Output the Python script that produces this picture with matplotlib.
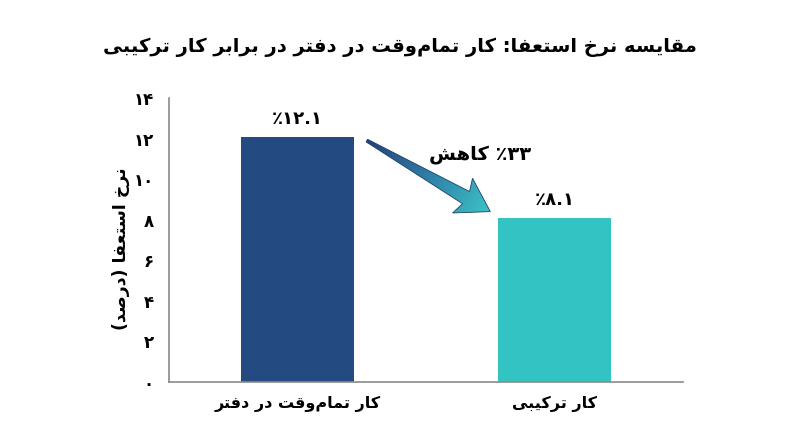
import matplotlib
matplotlib.use("Agg")
import matplotlib.pyplot as plt
import numpy as np
from matplotlib.patches import Polygon
from matplotlib.colors import LinearSegmentedColormap

# data
categories = ['کار تمام\u200cوقت در دفتر', 'کار ترکیبی']
rates = [12.1, 8.1]
bar_colors = ['#244a82', '#34c3c3']
yticks = [0, 2, 4, 6, 8, 10, 12, 14]
title = 'مقایسه نرخ استعفا: کار تمام\u200cوقت در دفتر در برابر کار ترکیبی'
ylabel = 'نرخ استعفا (درصد)'
drop_word = 'کاهش'

# matplotlib has no arabic shaping, so pick the presentation forms by hand
# (isolated, final, initial, medial)
FORMS = {
    'ا': ('\uFE8D', '\uFE8E', None, None),
    'ب': ('\uFE8F', '\uFE90', '\uFE91', '\uFE92'),
    'ت': ('\uFE95', '\uFE96', '\uFE97', '\uFE98'),
    'خ': ('\uFEA5', '\uFEA6', '\uFEA7', '\uFEA8'),
    'د': ('\uFEA9', '\uFEAA', None, None),
    'ر': ('\uFEAD', '\uFEAE', None, None),
    'س': ('\uFEB1', '\uFEB2', '\uFEB3', '\uFEB4'),
    'ش': ('\uFEB5', '\uFEB6', '\uFEB7', '\uFEB8'),
    'ص': ('\uFEB9', '\uFEBA', '\uFEBB', '\uFEBC'),
    'ع': ('\uFEC9', '\uFECA', '\uFECB', '\uFECC'),
    'ف': ('\uFED1', '\uFED2', '\uFED3', '\uFED4'),
    'ق': ('\uFED5', '\uFED6', '\uFED7', '\uFED8'),
    'م': ('\uFEE1', '\uFEE2', '\uFEE3', '\uFEE4'),
    'ن': ('\uFEE5', '\uFEE6', '\uFEE7', '\uFEE8'),
    'ه': ('\uFEE9', '\uFEEA', '\uFEEB', '\uFEEC'),
    'و': ('\uFEED', '\uFEEE', None, None),
    'ک': ('\uFB8E', '\uFB8F', '\uFB90', '\uFB91'),
    'ی': ('\uFBFC', '\uFBFD', '\uFBFE', '\uFBFF'),
}
MIRROR = {'(': ')', ')': '('}


def rtl(s):
    out = []
    for i, c in enumerate(s):
        if c not in FORMS:
            if c != '\u200c':
                out.append(c)
            continue
        prev = s[i - 1] if i > 0 else ''
        nxt = s[i + 1] if i + 1 < len(s) else ''
        j_prev = prev in FORMS and FORMS[prev][2] is not None
        j_next = nxt in FORMS and FORMS[c][2] is not None
        iso, fin, ini, med = FORMS[c]
        if j_prev and j_next:
            out.append(med)
        elif j_prev:
            out.append(fin)
        elif j_next:
            out.append(ini)
        else:
            out.append(iso)
    return ''.join(MIRROR.get(c, c) for c in reversed(out))


def fa(x):
    return str(x).translate(str.maketrans('0123456789', '۰۱۲۳۴۵۶۷۸۹'))


plt.rcParams['font.family'] = 'DejaVu Sans'
plt.rcParams['font.weight'] = 'bold'

fig = plt.figure(figsize=(8, 4.47), dpi=100)
ax = fig.add_axes([0.211, 0.1454, 0.643, 0.6354])

x = np.arange(len(rates))
width = 0.44
ax.bar(x, rates, width=width, color=bar_colors, zorder=2)
ax.set_xlim(-0.5, 1.5)
ax.set_ylim(0, 14)

for xi, v in zip(x, rates):
    ax.annotate('٪' + fa(v), (xi, v), textcoords='offset points', xytext=(0, 6),
                ha='center', va='bottom', fontsize=13, fontweight='bold')

ax.set_yticks(yticks)
ax.set_yticklabels([fa(t) for t in yticks], fontsize=12, fontweight='bold')
ax.set_xticks(x)
ax.set_xticklabels([rtl(c) for c in categories], fontsize=11.5, fontweight='bold')
ax.tick_params(axis='both', length=0)
ax.tick_params(axis='y', pad=11)
ax.tick_params(axis='x', pad=10)
for s in ['top', 'right']:
    ax.spines[s].set_visible(False)
for s in ['left', 'bottom']:
    ax.spines[s].set_color('#8a8a8a')
    ax.spines[s].set_linewidth(1.2)

ax.set_ylabel(rtl(ylabel), fontsize=12.5, fontweight='bold', labelpad=1)
ax.yaxis.set_label_coords(-0.076, 0.47)
fig.suptitle(rtl(title), fontsize=14, fontweight='bold', y=0.915)

# gradient arrow from the first bar down to the second
p0 = ax.transData.transform((x[0] + width / 2 + 0.05, rates[0] - 0.2))
p1 = ax.transData.transform((x[1] - width / 2 - 0.03, rates[1] + 0.3))
d = p1 - p0
L = np.hypot(*d)
u = d / L
n = np.array([-u[1], u[0]])
head_len, head_w, tail_w, neck_w = 28, 20, 1.5, 7
pts = [p0 + n * tail_w,
       p0 + u * (L - head_len) + n * neck_w,
       p0 + u * (L - head_len - 4) + n * head_w,
       p1,
       p0 + u * (L - head_len - 4) - n * head_w,
       p0 + u * (L - head_len) - n * neck_w,
       p0 - n * tail_w]
pts_data = ax.transData.inverted().transform(np.array(pts))
arrow = Polygon(pts_data, closed=True, facecolor='none', edgecolor='#1e3f66',
                linewidth=0.6, zorder=4)
ax.add_patch(arrow)

xmin, ymin = pts_data.min(axis=0)
xmax, ymax = pts_data.max(axis=0)
gx, gy = np.meshgrid(np.linspace(xmin, xmax, 200), np.linspace(ymin, ymax, 200))
gpix = ax.transData.transform(np.column_stack([gx.ravel(), gy.ravel()]))
t = ((gpix - p0) @ u / L).reshape(gx.shape)
cmap = LinearSegmentedColormap.from_list('arr', ['#22407a', '#2f7fa8', '#3cc3c6'])
im = ax.imshow(t, cmap=cmap, vmin=0, vmax=1, origin='lower',
               extent=(xmin, xmax, ymin, ymax), aspect='auto', zorder=3)
im.set_clip_path(arrow)
ax.set_xlim(-0.5, 1.5)
ax.set_ylim(0, 14)

pct = round((rates[0] - rates[1]) / rates[0] * 100)
mid = ax.transData.inverted().transform(p0 + d * 0.5 + n * 45 + u * 34)
ax.text(mid[0], mid[1], rtl(drop_word) + ' ٪' + fa(pct), ha='center', va='center',
        fontsize=14, fontweight='bold', zorder=5)

fig.savefig('out.png', dpi=100)
